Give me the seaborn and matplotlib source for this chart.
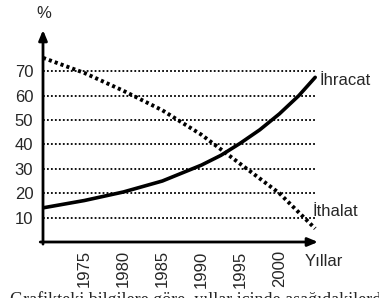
import numpy as np
import pandas as pd
import seaborn as sns
import matplotlib.pyplot as plt

# values
ihracat_years = [1969.7, 1975, 1980, 1985, 1990, 1992.5, 1995, 1997.5, 2000, 2002.5, 2004.6]
ihracat_vals = [14, 17, 20.5, 25, 31.5, 35.5, 40.5, 46, 52.5, 60, 67.5]
ithalat_years = [1969.7, 1975, 1980, 1985, 1990, 1995, 2000, 2004.6]
ithalat_vals = [75.5, 69.3, 62, 54, 44, 32, 20, 5.5]
x_ticks = [1975, 1980, 1985, 1990, 1995, 2000]
y_ticks = [10, 20, 30, 40, 50, 60, 70]

sns.set_style("white")
plt.rcParams['font.family'] = ['Liberation Sans', 'DejaVu Sans']

fig = plt.figure(figsize=(3.79, 2.98), dpi=100)
ax = fig.add_axes([43 / 379, 56 / 298, 275 / 379, 212 / 298])

df_ih = pd.DataFrame({"yil": ihracat_years, "deger": ihracat_vals})
df_it = pd.DataFrame({"yil": ithalat_years, "deger": ithalat_vals})

# dotted grid lines
ax.hlines(y_ticks, 1969.7, 2004.6, colors="black", linestyles=(0, (1, 1.2)), lw=1.3)

sns.lineplot(data=df_ih, x="yil", y="deger", ax=ax, color="black", lw=2.6)
sns.lineplot(data=df_it, x="yil", y="deger", ax=ax, color="black", lw=2.8,
             linestyle=(0, (0.8, 0.8)))

ax.set_xlim(1969.7, 2004.96)
ax.set_ylim(0, 86.9)
ax.set_xticks(x_ticks)
ax.set_yticks(y_ticks)
ax.set_xticklabels([str(t) for t in x_ticks], rotation=90, fontsize=12)
ax.set_yticklabels([str(t) for t in y_ticks], fontsize=12)
ax.tick_params(axis="y", direction="out", length=5, width=1.5, pad=2)
ax.tick_params(axis="x", direction="inout", length=6, width=1.5, pad=3)
ax.set_xlabel("")
ax.set_ylabel("")
for s in ax.spines.values():
    s.set_visible(False)

# axis arrows
ax.annotate("", xy=(1, 0), xytext=(-0.01, 0), xycoords="axes fraction",
            arrowprops=dict(arrowstyle="-|>,head_length=0.6,head_width=0.25",
                            lw=2, color="black", shrinkA=0, shrinkB=0))
ax.annotate("", xy=(0, 1), xytext=(0, -0.01), xycoords="axes fraction",
            arrowprops=dict(arrowstyle="-|>,head_length=0.6,head_width=0.25",
                            lw=2, color="black", shrinkA=0, shrinkB=0))

ax.text(2005.2, 66, "İhracat", fontsize=12, va="center", ha="left", clip_on=False)
ax.text(2004.2, 12.7, "İthalat", fontsize=12, va="center", ha="left", clip_on=False)
ax.text(2003.2, -8, "Yıllar", fontsize=12, va="center", ha="left", clip_on=False)
fig.text(44 / 379, 1 - 14 / 298, "%", fontsize=12, ha="center", va="center")

fig.text(10 / 379, 1 - 291 / 298, "Grafikteki bilgilere göre, yıllar içinde aşağıdakilerden",
         fontsize=13, va="top", ha="left", family="Liberation Serif")

fig.savefig("out.png", dpi=100)
plt.close(fig)
